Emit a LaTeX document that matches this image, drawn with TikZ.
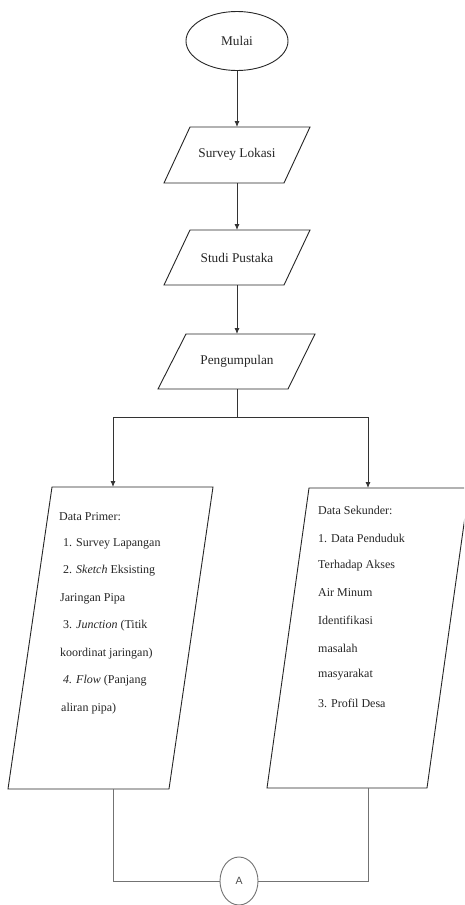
\documentclass[tikz,border=0pt]{standalone}
\usepackage{fontspec}
\setmainfont{Liberation Serif}
\newfontfamily\labelsans{Liberation Sans}
\usetikzlibrary{shapes.geometric,arrows.meta}
\tikzset{
  x=1pt, y=-1pt,
  shapeline/.style={draw=black!85, line width=0.9pt},
  conn/.style={draw=black!80, line width=0.9pt},
  arr/.style={conn, -{Latex[length=6pt,width=5pt]}},
  endconn/.style={draw=black!55, line width=0.9pt},
  bigtxt/.style={font=\fontsize{13.3}{16}\selectfont, inner sep=0pt, text=black!85},
  smalltxt/.style={font=\fontsize{12}{14}\selectfont, inner sep=0pt, anchor=west, text=black!85},
}
\begin{document}
\begin{tikzpicture}
\useasboundingbox (0,0) rectangle (464,905);
\clip (0,0) rectangle (464,905);
\fill[white] (0,0) rectangle (464,905);

% Start
\node[ellipse, shapeline, minimum width=102pt, minimum height=59pt, bigtxt, inner sep=0pt] (mulai) at (237,41) {Mulai};

% Survey Lokasi
\draw[shapeline] (190,127) -- (310,127) -- (284,183) -- (164,183) -- cycle;
\node[bigtxt] (survey) at (237,154) {Survey Lokasi};
\coordinate (surveyT) at (237,127);
\coordinate (surveyB) at (237,183);

% Studi Pustaka
\draw[shapeline] (190,230) -- (310,230) -- (284,285) -- (164,285) -- cycle;
\node[bigtxt] (studi) at (237,258) {Studi Pustaka};
\coordinate (studiT) at (237,230);
\coordinate (studiB) at (237,285);

% Pengumpulan
\draw[shapeline] (186,334) -- (315,334) -- (288,389) -- (158,389) -- cycle;
\node[bigtxt] (kumpul) at (237,361) {Pengumpulan};
\coordinate (kumpulT) at (237,334);
\coordinate (kumpulB) at (237,389);

% split
\coordinate (split) at (237,417);
\coordinate (splitL) at (113,417);
\coordinate (splitR) at (368,417);
\coordinate (primT) at (113,487);
\coordinate (sekT) at (368,488);

% Data Primer box
\draw[shapeline] (52,487) -- (213,487) -- (169,789) -- (8,789) -- cycle;
\node[smalltxt] (p0) at (59,517) {Data Primer:};
\node[smalltxt] (p1) at (63,544) {1. Survey Lapangan};
\node[smalltxt] (p2) at (63,571) {2. \textit{Sketch} Eksisting};
\node[smalltxt] (p3) at (60,599) {Jaringan Pipa};
\node[smalltxt] (p4) at (63,626) {3. \textit{Junction} (Titik};
\node[smalltxt] (p5) at (60,654) {koordinat jaringan)};
\node[smalltxt] (p6) at (63,681) {\textit{4. Flow} (Panjang};
\node[smalltxt] (p7) at (61,709) {aliran pipa)};
\coordinate (primB) at (113,789);

% Data Sekunder box
\draw[shapeline] (309,488) -- (469,488) -- (427,788) -- (267,788) -- cycle;
\node[smalltxt] (s0) at (318,510) {Data Sekunder:};
\node[smalltxt] (s1) at (318,538) {1. Data Penduduk};
\node[smalltxt] (s2) at (318,566) {Terhadap Akses};
\node[smalltxt] (s3) at (318,593) {Air Minum};
\node[smalltxt] (s4) at (318,620) {Identifikasi};
\node[smalltxt] (s5) at (318,648) {masalah};
\node[smalltxt] (s6) at (318,675) {masyarakat};
\node[smalltxt] (s7) at (318,703) {3. Profil Desa};
\coordinate (sekB) at (368,788);

% Connector A
\node[ellipse, draw=black!55, line width=0.9pt, minimum width=38pt, minimum height=48pt, inner sep=0pt, font=\labelsans\fontsize{10.5}{12}\selectfont, text=black!70] (conA) at (239,881) {A};

% connectors
\draw[arr] (mulai.south) -- (surveyT);
\draw[arr] (surveyB) -- (studiT);
\draw[arr] (studiB) -- (kumpulT);
\draw[conn] (kumpulB) -- (split);
\draw[conn] (splitL) -- (splitR);
\draw[arr] (splitL) -- (primT);
\draw[arr] (splitR) -- (sekT);
\draw[endconn] (primB) |- (conA.west);
\draw[endconn] (sekB) |- (conA.east);
\end{tikzpicture}
\end{document}
